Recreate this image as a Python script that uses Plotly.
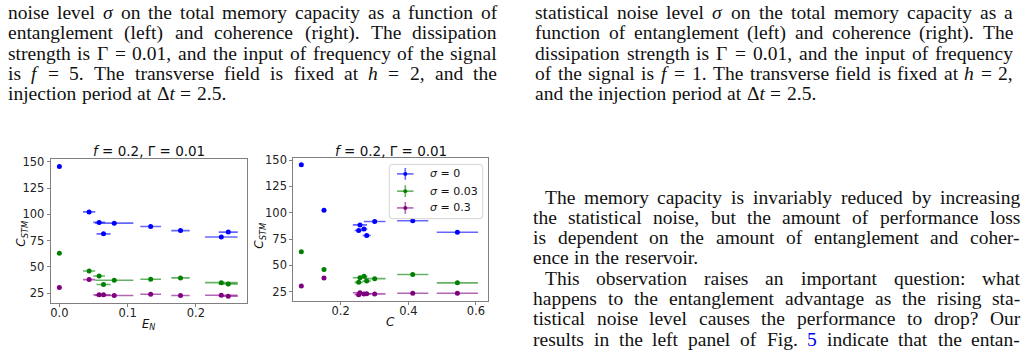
import re
import plotly.graph_objects as go

W, H = 1028, 356

# ---------------- data ----------------
series_names = ["σ = 0", "σ = 0.03", "σ = 0.3"]
series_colors = ["#0000ff", "#008000", "#800080"]
bar_colors = ["rgba(0,0,255,0.6)", "rgba(0,128,0,0.6)", "rgba(128,0,128,0.6)"]

entanglement_EN = [0.0, 0.0436, 0.0583, 0.0647, 0.0804, 0.1338, 0.1775, 0.2373, 0.2475]
entanglement_err = [0.0, 0.009, 0.0086, 0.0103, 0.028, 0.0152, 0.0135, 0.0238, 0.014]
coherence_C = [0.0837, 0.1507, 0.413, 0.545, 0.3005, 0.257, 0.269, 0.277, 0.2532]
coherence_err = [0.0, 0.0, 0.046, 0.061, 0.032, 0.021, 0.010, 0.012, 0.012]

cstm_sigma_0 = [145.5, 102.3, 92.3, 81.4, 91.6, 88.4, 84.5, 78.4, 83.1]
cstm_sigma_003 = [62.9, 46.1, 41.3, 33.3, 37.3, 38.2, 39.5, 35.0, 33.8]
cstm_sigma_03 = [30.4, 37.9, 23.4, 23.4, 22.8, 23.9, 22.8, 23.0, 22.1]

y_ticks = [25, 50, 75, 100, 125, 150]
x_ticks_left = [0.0, 0.1, 0.2]
x_ticks_right = [0.2, 0.4, 0.6]
panel_title = "<i>f</i> = 0.2, Γ = 0.01"

# ---------------- figure ----------------
fig = go.Figure()
all_series = [cstm_sigma_0, cstm_sigma_003, cstm_sigma_03]
for i, ys in enumerate(all_series):
    fig.add_trace(go.Scatter(
        x=entanglement_EN, y=ys, mode="markers", name=series_names[i],
        marker=dict(color=series_colors[i], size=5),
        error_x=dict(type="data", array=entanglement_err, color=bar_colors[i],
                     thickness=1.6, width=0),
        xaxis="x", yaxis="y", showlegend=False))
    fig.add_trace(go.Scatter(
        x=coherence_C, y=ys, mode="markers", name=series_names[i],
        marker=dict(color=series_colors[i], size=5),
        error_x=dict(type="data", array=coherence_err, color=bar_colors[i],
                     thickness=1.6, width=0),
        xaxis="x2", yaxis="y2", showlegend=False))

def px(x):
    return x / W

def py(y):
    return 1 - y / H

def axis_style(standoff=0):
    return dict(showline=True, mirror=True, linecolor="#808080", linewidth=1,
                ticks="outside", ticklen=3, tickcolor="#808080", tickwidth=1,
                showgrid=False, zeroline=False, ticklabelstandoff=standoff,
                tickfont=dict(family="DejaVu Sans", size=11.5, color="#222222"))

fig.update_layout(
    width=W, height=H, margin=dict(l=0, r=0, t=0, b=0),
    paper_bgcolor="white", plot_bgcolor="white", showlegend=False,
    xaxis=dict(domain=[px(50.7), px(246.7)], range=[-0.0127, 0.2745],
               tickvals=x_ticks_left, tickformat=".1f", anchor="y", **axis_style(-4)),
    yaxis=dict(domain=[py(302.5), py(156)], range=[15.4, 152.8],
               tickvals=y_ticks, anchor="x", **axis_style()),
    xaxis2=dict(domain=[px(293.3), px(488)], range=[0.06, 0.6355],
                tickvals=x_ticks_right, tickformat=".1f", anchor="y2", **axis_style(-4)),
    yaxis2=dict(domain=[py(300.5), py(155)], range=[15.8, 152.2],
                tickvals=y_ticks, anchor="x2", **axis_style()),
)

annotations = []
shapes = []

def ann(text, x, y, size, family="DejaVu Sans", xanchor="center", yanchor="middle",
        angle=0, color="#111111"):
    annotations.append(dict(text=text, x=px(x), y=py(y), xref="paper", yref="paper",
                            showarrow=False, xanchor=xanchor, yanchor=yanchor,
                            textangle=angle, font=dict(family=family, size=size, color=color)))

# panel titles and axis labels
ann(panel_title, 148.7, 148.3, 13.5)
ann(panel_title, 390.6, 148.3, 13.5)
ann("<i>C<sub>STM</sub></i>", 22, 232, 12, angle=-90)
ann("<i>C<sub>STM</sub></i>", 260, 234, 12, angle=-90)
ann("<i>E<sub>N</sub></i>", 148, 324, 11.5)
ann("<i>C</i>", 390, 322, 12)

# manual legend (matplotlib errorbar style)
lx0, ly0, lx1, ly1, r = 389.3, 161.7, 482.7, 216.7, 3
path = (f"M {px(lx0+r)},{py(ly0)} L {px(lx1-r)},{py(ly0)} Q {px(lx1)},{py(ly0)} {px(lx1)},{py(ly0+r)} "
        f"L {px(lx1)},{py(ly1-r)} Q {px(lx1)},{py(ly1)} {px(lx1-r)},{py(ly1)} "
        f"L {px(lx0+r)},{py(ly1)} Q {px(lx0)},{py(ly1)} {px(lx0)},{py(ly1-r)} "
        f"L {px(lx0)},{py(ly0+r)} Q {px(lx0)},{py(ly0)} {px(lx0+r)},{py(ly0)} Z")
shapes.append(dict(type="path", path=path, xref="paper", yref="paper",
                   fillcolor="rgba(255,255,255,0.8)", line=dict(color="#d4d4d4", width=1)))
legend_rows = [171.3, 188.8, 205.8]
legend_labels = ["<i>σ</i> = 0", "<i>σ</i> = 0.03", "<i>σ</i> = 0.3"]
for i, yy in enumerate(legend_rows):
    shapes.append(dict(type="line", xref="paper", yref="paper", x0=px(397), x1=px(413.5),
                       y0=py(yy), y1=py(yy), line=dict(color=bar_colors[i], width=1.6)))
    shapes.append(dict(type="line", xref="paper", yref="paper", x0=px(405.3), x1=px(405.3),
                       y0=py(yy - 6), y1=py(yy + 6), line=dict(color=bar_colors[i], width=1.6)))
    shapes.append(dict(type="circle", xref="paper", yref="paper", x0=px(403.3), x1=px(407.3),
                       y0=py(yy - 2), y1=py(yy + 2), fillcolor=series_colors[i],
                       line=dict(width=0)))
    ann(legend_labels[i], 427.5, yy, 11, xanchor="left")

# ---------------- page text ----------------
TW = dict(zip("abcdefghijklmnopqrstuvwxyz",
              [444, 500, 444, 500, 444, 333, 500, 500, 278, 278, 500, 278, 778, 500, 500,
               500, 500, 333, 389, 278, 500, 500, 722, 500, 500, 444]))
TW.update(zip("ABCDEFGHIJKLMNOPQRSTUVWXYZ",
              [722, 667, 667, 722, 611, 556, 722, 722, 333, 389, 722, 611, 889, 722, 722,
               556, 722, 667, 556, 611, 722, 722, 944, 722, 722, 611]))
TW.update({c: 500 for c in "0123456789"})
TW.update({' ': 250, ',': 250, '.': 250, '-': 333, '(': 333, ')': 333, ':': 278,
           '?': 444, '=': 564, 'σ': 540, 'Γ': 578, 'Δ': 612})

FS = 19.5
SERIF = "Liberation Serif"
VOFF = 2.7

def parse(word):
    plain = word.replace("*", "").replace("{", "").replace("}", "")
    html = re.sub(r"\*(.+?)\*", r"<i>\1</i>", word)
    html = re.sub(r"\{(.+?)\}", r'<span style="color:#0000ee">\1</span>', html)
    return plain, html

def width(s):
    return sum(TW.get(ch, 500) for ch in s) / 1000 * FS

def text_line(line, xl, xr, center, justify=True, indent=0.0):
    words = [parse(w) for w in line.split(" ")]
    widths = [width(p) for p, _ in words]
    start = xl + indent
    if justify and len(words) > 1:
        gap = (xr - start - sum(widths)) / (len(words) - 1)
    else:
        gap = width(" ") * 1.15
    x = start
    for (p, h), w in zip(words, widths):
        ann(h, x - 1, center - VOFF, FS, family=SERIF, xanchor="left")
        x += w + gap

left_caption = [
    "noise level *σ* on the total memory capacity as a function of",
    "entanglement (left) and coherence (right). The dissipation",
    "strength is Γ = 0.01, and the input of frequency of the signal",
    "is *f* = 5. The transverse field is fixed at *h* = 2, and the",
    "injection period at Δ*t* = 2.5.",
]
right_caption = [
    "statistical noise level *σ* on the total memory capacity as a",
    "function of entanglement (left) and coherence (right). The",
    "dissipation strength is Γ = 0.01, and the input of frequency",
    "of the signal is *f* = 1. The transverse field is fixed at *h* = 2,",
    "and the injection period at Δ*t* = 2.5.",
]
body = [
    "The memory capacity is invariably reduced by increasing",
    "the statistical noise, but the amount of performance loss",
    "is dependent on the amount of entanglement and coher-",
    "ence in the reservoir.",
    "This observation raises an important question: what",
    "happens to the entanglement advantage as the rising sta-",
    "tistical noise level causes the performance to drop? Our",
    "results in the left panel of Fig. {5} indicate that the entan-",
]
body_justify = [True, True, True, False, True, True, True, True]
body_indent = [11.5, 0, 0, 0, 11.5, 0, 0, 0]

cap_center = [10.3, 30.9, 51.5, 72.1, 92.7]
for i, ln in enumerate(left_caption):
    text_line(ln, 7, 496, cap_center[i], justify=(i < len(left_caption) - 1))
for i, ln in enumerate(right_caption):
    text_line(ln, 534, 1012, cap_center[i], justify=(i < len(right_caption) - 1))
for i, ln in enumerate(body):
    text_line(ln, 532, 1019, 197.5 + 20.6 * i, justify=body_justify[i], indent=body_indent[i])

fig.update_layout(annotations=annotations, shapes=shapes)
fig.write_html("out.html")
